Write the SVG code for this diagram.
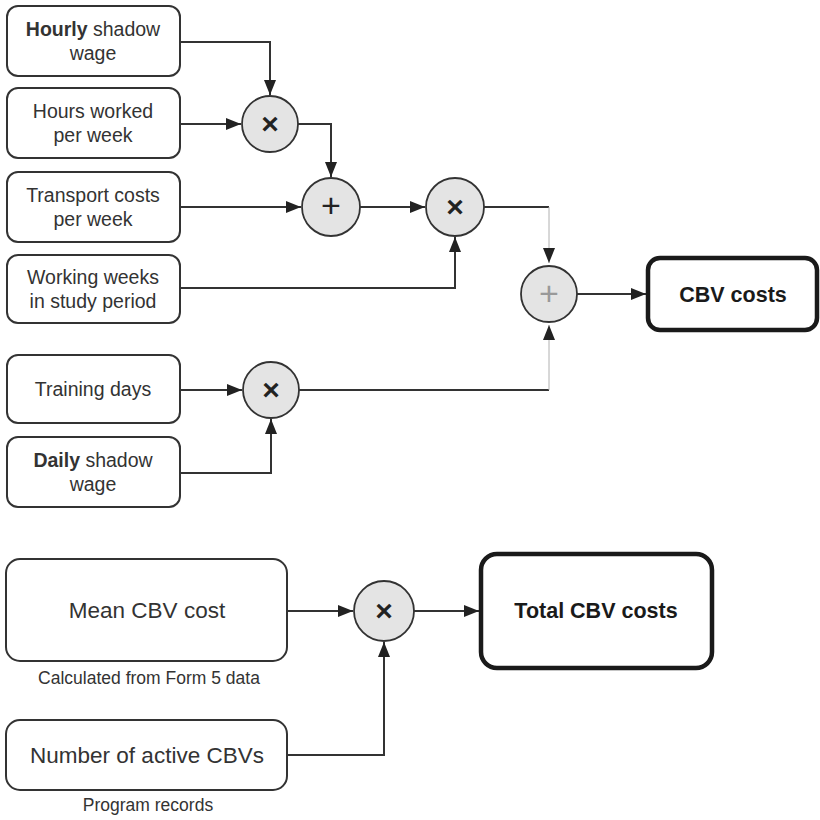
<svg xmlns="http://www.w3.org/2000/svg" width="820" height="820" viewBox="0 0 820 820">
<style>
.box{fill:#fff;stroke:#333;stroke-width:2}
.out{fill:#fff;stroke:#1a1a1a;stroke-width:4.5}
.op{fill:#e4e4e4;stroke:#333;stroke-width:1.8}
.t{font-family:"Liberation Sans",Arial,sans-serif;font-size:19.5px;fill:#333;text-anchor:middle}
.big{font-size:22.5px}
.cap{font-size:17.5px}
.b{font-weight:bold}
.ob{font-family:"Liberation Sans",Arial,sans-serif;font-size:21.5px;font-weight:bold;fill:#1a1a1a;text-anchor:middle}
.x{font-family:"Liberation Sans",Arial,sans-serif;font-size:30px;font-weight:bold;fill:#222;text-anchor:middle}
.p{font-family:"Liberation Sans",Arial,sans-serif;font-size:34px;fill:#222;text-anchor:middle}
.c{fill:none;stroke:#333;stroke-width:2}
.thin{fill:none;stroke:#b0b0b0;stroke-width:1}
</style>
<defs>
<marker id="ah" markerUnits="userSpaceOnUse" markerWidth="16" markerHeight="12" refX="15" refY="6" orient="auto">
<path d="M0,0 L15,6 L0,12 z" fill="#222"/>
</marker>
</defs>
<g id="connectors">
<path class="c" d="M180,42 H270 V95" marker-end="url(#ah)"/>
<path class="c" d="M180,124 H241" marker-end="url(#ah)"/>
<path class="c" d="M298,124 H331 V177" marker-end="url(#ah)"/>
<path class="c" d="M180,207 H301" marker-end="url(#ah)"/>
<path class="c" d="M360,207 H425" marker-end="url(#ah)"/>
<path class="c" d="M180,288 H455 V237" marker-end="url(#ah)"/>
<path class="c" d="M484,207 H549"/>
<path class="thin" d="M549,207 V263" marker-end="url(#ah)"/>
<path class="c" d="M180,390 H242" marker-end="url(#ah)"/>
<path class="c" d="M299,390 H549"/>
<path class="thin" d="M549,390 V325" marker-end="url(#ah)"/>
<path class="c" d="M180,473 H271 V419" marker-end="url(#ah)"/>
<path class="c" d="M577,294 H646" marker-end="url(#ah)"/>
<path class="c" d="M287,611 H353" marker-end="url(#ah)"/>
<path class="c" d="M287,755 H384 V642" marker-end="url(#ah)"/>
<path class="c" d="M414,611 H479" marker-end="url(#ah)"/>
</g>
<g id="hourly"><rect class="box" x="7" y="6" width="173" height="70" rx="11"/><text class="t" x="93" y="36"><tspan class="b">Hourly</tspan> shadow</text><text class="t" x="93" y="60">wage</text></g>
<g id="hours"><rect class="box" x="7" y="88" width="173" height="70" rx="11"/><text class="t" x="93" y="118">Hours worked</text><text class="t" x="93" y="142">per week</text></g>
<g id="transport"><rect class="box" x="7" y="172" width="173" height="70" rx="11"/><text class="t" x="93" y="202">Transport costs</text><text class="t" x="93" y="226">per week</text></g>
<g id="weeks"><rect class="box" x="7" y="255" width="173" height="68" rx="11"/><text class="t" x="93" y="284">Working weeks</text><text class="t" x="93" y="308">in study period</text></g>
<g id="training"><rect class="box" x="7" y="355" width="173" height="68" rx="11"/><text class="t" x="93" y="396">Training days</text></g>
<g id="daily"><rect class="box" x="7" y="437" width="173" height="70" rx="11"/><text class="t" x="93" y="467"><tspan class="b">Daily</tspan> shadow</text><text class="t" x="93" y="491">wage</text></g>
<g id="mult1"><circle class="op" cx="270" cy="124" r="28"/><text class="x" x="270" y="134">×</text></g>
<g id="plus"><circle class="op" cx="331" cy="207" r="29"/><text class="p" x="331" y="217">+</text></g>
<g id="mult2"><circle class="op" cx="455" cy="207" r="29"/><text class="x" x="455" y="217">×</text></g>
<g id="sum"><circle class="op" cx="549" cy="294" r="28"/><text class="p" x="549" y="305" style="fill:#999">+</text></g>
<g id="mult3"><circle class="op" cx="271" cy="390" r="28"/><text class="x" x="271" y="400">×</text></g>
<g id="cbv"><rect class="out" x="648" y="258" width="169" height="72" rx="12"/><text class="ob" x="733" y="302">CBV costs</text></g>
<g id="mean"><rect class="box" x="6" y="559" width="281" height="102" rx="14"/><text class="t big" x="147" y="618">Mean CBV cost</text><text class="t cap" x="149" y="684">Calculated from Form 5 data</text></g>
<g id="number"><rect class="box" x="6" y="720" width="281" height="70" rx="14"/><text class="t big" x="147" y="763">Number of active CBVs</text><text class="t cap" x="148" y="811">Program records</text></g>
<g id="mult4"><circle class="op" cx="384" cy="611" r="30"/><text class="x" x="384" y="621">×</text></g>
<g id="total"><rect class="out" x="481" y="554" width="231" height="114" rx="16"/><text class="ob" x="596" y="618">Total CBV costs</text></g>
</svg>
